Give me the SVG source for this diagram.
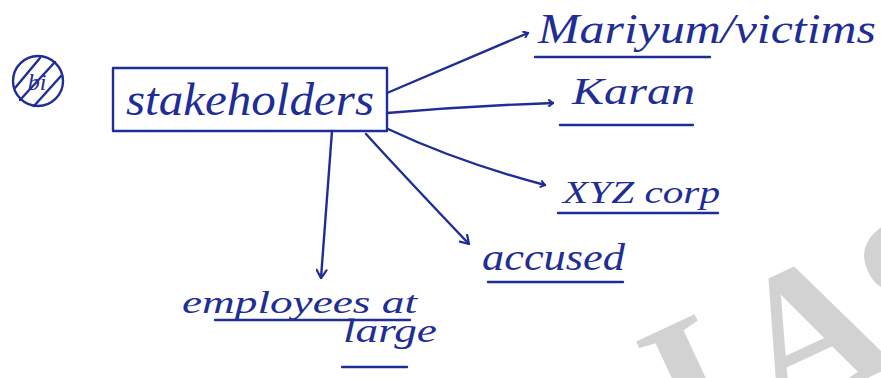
<svg xmlns="http://www.w3.org/2000/svg" width="881" height="378" viewBox="0 0 881 378">
  <style>
    .ink { fill: none; stroke: #1f2d96; stroke-width: 2.4; stroke-linecap: round; stroke-linejoin: round; }
    .hw { font-family: "Liberation Serif", "DejaVu Serif", serif; font-style: italic; fill: #1f2d96; }
    .wm { font-family: "Liberation Serif", "DejaVu Serif", serif; font-weight: bold; font-size: 200px; fill: #d2d2d2; }
  </style>
  <defs>
    <marker id="head" viewBox="0 0 12 12" refX="11" refY="6" markerWidth="12" markerHeight="12" markerUnits="userSpaceOnUse" orient="auto">
      <path d="M3,1 L11,6 L3,11" fill="none" stroke="#1f2d96" stroke-width="2.2" stroke-linecap="round" stroke-linejoin="round"/>
    </marker>
    <marker id="headsm" viewBox="0 0 8 8" refX="7" refY="4" markerWidth="8" markerHeight="8" markerUnits="userSpaceOnUse" orient="auto">
      <path d="M3,1 L7,4 L3,7" fill="none" stroke="#1f2d96" stroke-width="2" stroke-linecap="round" stroke-linejoin="round"/>
    </marker>
  </defs>

  <rect width="881" height="378" fill="#ffffff"/>

  <!-- watermark -->
  <g id="watermark" transform="translate(685.5,463) rotate(-25)">
    <text class="wm" x="0" y="0">I</text>
    <text class="wm" x="95" y="0">A</text>
    <text class="wm" x="235" y="0">S</text>
  </g>

  <!-- question marker -->
  <g id="qmark">
    <circle class="ink" cx="38" cy="81" r="25"/>
    <text class="hw" x="37" y="90" font-size="24" text-anchor="middle">bi</text>
    <line class="ink" x1="15" y1="88" x2="40" y2="58"/>
    <line class="ink" x1="20" y1="100" x2="55" y2="62"/>
    <line class="ink" x1="34" y1="106" x2="61" y2="76"/>
  </g>

  <!-- connectors -->
  <g id="connectors">
    <path class="ink" d="M387,93 L528,33" marker-end="url(#headsm)"/>
    <path class="ink" d="M387,113 Q470,106 553,103" marker-end="url(#headsm)"/>
    <path class="ink" d="M388,129 Q458,162 545,185" marker-end="url(#headsm)"/>
    <path class="ink" d="M366,134 Q408,180 469,244" marker-end="url(#head)"/>
    <path class="ink" d="M332,131 L321,278" marker-end="url(#head)"/>
  </g>

  <!-- central node -->
  <g id="stakeholders">
    <rect class="ink" x="113" y="68" width="274" height="63"/>
    <text class="hw" x="126" y="115" font-size="46" textLength="248" lengthAdjust="spacingAndGlyphs">stakeholders</text>
  </g>

  <g id="mariyum">
    <text class="hw" x="538" y="43" font-size="42" textLength="338" lengthAdjust="spacingAndGlyphs">Mariyum/victims</text>
    <line class="ink" x1="535" y1="57" x2="710" y2="57"/>
  </g>

  <g id="karan">
    <text class="hw" x="572" y="104" font-size="38" textLength="123" lengthAdjust="spacingAndGlyphs">Karan</text>
    <line class="ink" x1="560" y1="125" x2="693" y2="125"/>
  </g>

  <g id="xyz">
    <text class="hw" x="563" y="203" font-size="32" textLength="157" lengthAdjust="spacingAndGlyphs">XYZ corp</text>
    <line class="ink" x1="558" y1="213" x2="718" y2="213"/>
  </g>

  <g id="accused">
    <text class="hw" x="482" y="270" font-size="38" textLength="143" lengthAdjust="spacingAndGlyphs">accused</text>
    <line class="ink" x1="488" y1="282" x2="623" y2="282"/>
  </g>

  <g id="employees">
    <text class="hw" x="182" y="313" font-size="32" textLength="235" lengthAdjust="spacingAndGlyphs">employees at</text>
    <line class="ink" x1="215" y1="320" x2="410" y2="320"/>
    <text class="hw" x="343" y="342" font-size="34" textLength="94" lengthAdjust="spacingAndGlyphs">large</text>
    <line class="ink" x1="342" y1="367" x2="407" y2="367"/>
  </g>
</svg>
